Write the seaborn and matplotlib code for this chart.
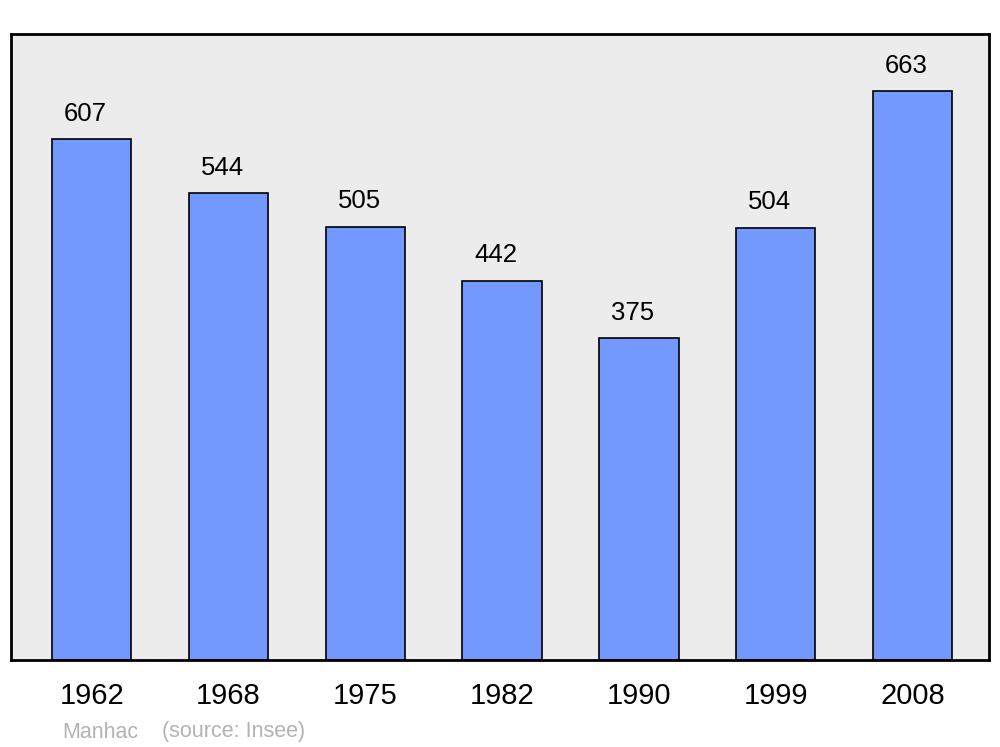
import matplotlib
matplotlib.use("Agg")
import matplotlib.pyplot as plt
import pandas as pd
import seaborn as sns

years = ["1962", "1968", "1975", "1982", "1990", "1999", "2008"]
population = [607, 544, 505, 442, 375, 504, 663]
town = "Manhac"
source = "(source: Insee)"

sns.set_style("white")
plt.rcParams["font.family"] = ["Liberation Sans", "DejaVu Sans"]

df = pd.DataFrame({"year": years, "pop": population})

fig = plt.figure(figsize=(10, 7.47), dpi=100)
ax = fig.add_axes([0.011, 0.1165, 0.978, 0.838])
ax.set_facecolor("#ececec")

sns.barplot(data=df, x="year", y="pop", ax=ax, color="#7399ff", saturation=1,
            width=0.58, edgecolor="black", linewidth=1.2, zorder=2)

# value labels sit a little left of the bar centre in the original
for i, v in enumerate(population):
    ax.annotate(str(v), (i, v), xytext=(-4.5, 18.5), textcoords="offset points",
                ha="center", va="center", fontsize=18.5, color="black")

ax.set_xlim(-0.59, 6.56)
ax.set_ylim(0, 730)
ax.set_yticks([])
ax.set_xlabel("")
ax.set_ylabel("")
ax.tick_params(axis="x", length=0, pad=16, labelsize=21, colors="black")
for s in ax.spines.values():
    s.set_visible(True)
    s.set_color("black")
    s.set_linewidth(2)

fig.text(0.062, (747 - 732) / 747, town, fontsize=15.5, color="#b3b3b3", va="center")
fig.text(0.162, (747 - 732) / 747, source, fontsize=15.5, color="#b3b3b3", va="center")

fig.savefig("out.png", dpi=100)
